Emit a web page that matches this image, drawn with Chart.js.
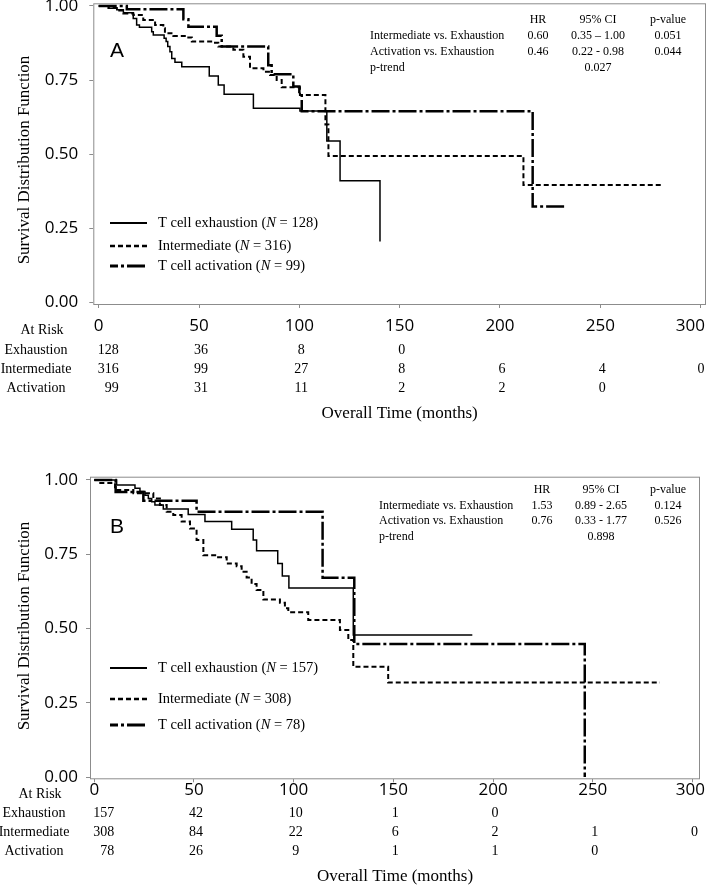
<!DOCTYPE html>
<html>
<head>
<meta charset="utf-8">
<script src="https://cdn.jsdelivr.net/npm/chart.js@4.4.1/dist/chart.umd.min.js"></script>
<style>
  body { margin: 0; background: #fff; }
  #wrapA { position: absolute; left: 0; top: 0; }
  #wrapB { position: absolute; left: 0; top: 440px; }
</style>
</head>
<body>
<div id="wrapA"><canvas id="chartA" width="707" height="440"></canvas></div>
<div id="wrapB"><canvas id="chartB" width="707" height="448"></canvas></div>
<script>
// shared
const months = [0, 50, 100, 150, 200, 250, 300];
const survTicks = [0, 0.25, 0.5, 0.75, 1];
const groups = ["Exhaustion", "Intermediate", "Activation"];
const legendNames = ["T cell exhaustion", "Intermediate", "T cell activation"];
const statRows = ["Intermediate vs. Exhaustion", "Activation vs. Exhaustion", "p-trend"];
const statHead = ["HR", "95% CI", "p-value"];

// panel A
const nA = [128, 316, 99];
const exhTimeA = [0, 4.8, 9, 12.3, 17.2, 18.9, 20.3, 26.4, 27.2, 32.6, 33.6, 34.4, 35.5, 36.4, 38, 41.4, 55.1, 59.6, 62.5, 77.1, 100.3, 113.7, 120.3, 140.2];
const exhSurvA = [1, 0.992, 0.987, 0.977, 0.958, 0.936, 0.928, 0.913, 0.902, 0.891, 0.88, 0.863, 0.846, 0.823, 0.81, 0.795, 0.764, 0.733, 0.702, 0.655, 0.646, 0.544, 0.41, 0.205];
const intTimeA = [0, 5, 9, 12.3, 17.3, 22.2, 28.1, 32.2, 33, 37.2, 43.9, 46.4, 57.1, 59.6, 67.1, 72.1, 75.4, 82.1, 85.4, 88.7, 91.2, 100.3, 113, 114.5, 211.7, 281.2];
const intSurvA = [1, 0.993, 0.985, 0.975, 0.97, 0.953, 0.936, 0.925, 0.908, 0.899, 0.894, 0.88, 0.876, 0.863, 0.852, 0.829, 0.79, 0.778, 0.767, 0.75, 0.726, 0.7, 0.6, 0.494, 0.396, 0.396];
const actTimeA = [0, 14, 42.2, 44.7, 58.8, 61.3, 84.5, 86.2, 97, 100, 101.2, 216.3, 233.3];
const actSurvA = [1, 0.989, 0.955, 0.93, 0.9, 0.863, 0.8, 0.77, 0.728, 0.705, 0.645, 0.323, 0.323];
const riskA = [[128, 36, 8, 0], [316, 99, 27, 8, 6, 4, 0], [99, 31, 11, 2, 2, 0]];
const hrA = ["0.60", "0.46"];
const ciA = ["0.35 \u2013 1.00", "0.22 - 0.98"];
const pA = ["0.051", "0.044"];
const trendA = "0.027";

// panel B
const nB = [157, 308, 78];
const exhTimeB = [0, 11.2, 20.4, 22.9, 25.4, 27.1, 28.8, 30.4, 34.6, 47.1, 55.5, 68.9, 79.7, 81.4, 92, 94.3, 97.6, 129.9, 189.6];
const exhSurvB = [1, 0.983, 0.972, 0.961, 0.949, 0.938, 0.927, 0.916, 0.902, 0.884, 0.86, 0.834, 0.798, 0.762, 0.719, 0.677, 0.636, 0.478, 0.478];
const intTimeB = [0, 3, 10.4, 19.6, 29.6, 32.9, 36.3, 39.6, 43.8, 48, 51.3, 54.7, 61.4, 66.4, 71.4, 73.9, 76.4, 78.9, 81.4, 84.8, 93.1, 95.6, 97.3, 107.3, 123.2, 127.4, 129.9, 147.4, 283.7];
const intSurvB = [1, 0.99, 0.966, 0.955, 0.938, 0.916, 0.893, 0.882, 0.86, 0.837, 0.798, 0.747, 0.74, 0.719, 0.71, 0.691, 0.672, 0.65, 0.63, 0.598, 0.587, 0.568, 0.555, 0.529, 0.495, 0.461, 0.371, 0.318, 0.318];
const actTimeB = [0, 10.7, 24.6, 51.3, 114.5, 130.4, 246];
const actSurvB = [1, 0.96, 0.93, 0.893, 0.671, 0.448, 0];
const riskB = [[157, 42, 10, 1, 0], [308, 84, 22, 6, 2, 1, 0], [78, 26, 9, 1, 1, 0]];
const hrB = ["1.53", "0.76"];
const ciB = ["0.89 - 2.65", "0.33 - 1.77"];
const pB = ["0.124", "0.526"];
const trendB = "0.898";

const dashes = [[], [5, 3], [18, 3, 3, 3]];
const widths = [1.5, 2, 2.5];
const serif = '"Liberation Serif", "Times New Roman", serif';
const sans = '"Open Sans", sans-serif';

function toPoints(t, s) {
  return t.map((v, i) => ({ x: v, y: s[i] }));
}

// keep the plot box where the reference has it
function noPad(s) {
  s.paddingLeft = 0;
  s.paddingRight = 0;
  s.paddingTop = 0;
  s.paddingBottom = 0;
}

function kmChart(id, L, curves, n, risk, hr, ci, p, trend) {
  const decor = {
    id: "decor" + L.letter,
    beforeDatasetsDraw(chart) {
      const { ctx, chartArea: a } = chart;
      ctx.save();
      ctx.strokeStyle = "#8c8c8c";
      ctx.lineWidth = 1;
      ctx.strokeRect(a.left + 0.5, a.top + 0.5, a.right - a.left - 1, a.bottom - a.top - 1);
      ctx.restore();
    },
    afterDraw(chart) {
      const { ctx, chartArea: a, scales: { x } } = chart;
      ctx.save();
      ctx.fillStyle = "#000";
      ctx.strokeStyle = "#000";

      // panel letter
      ctx.font = '21px "Liberation Sans", Arial, sans-serif';
      ctx.textAlign = "left";
      ctx.textBaseline = "alphabetic";
      ctx.fillText(L.letter, L.letterX, L.letterY);

      ctx.textBaseline = "middle";

      // x tick labels (last one kept inside the page)
      ctx.font = "17px " + sans;
      ctx.textAlign = "center";
      months.forEach(m => {
        const w = ctx.measureText(String(m)).width;
        const px = Math.min(x.getPixelForValue(m), chart.width - w / 2 - 2);
        ctx.fillText(String(m), px, L.tickY);
      });

      // y title
      ctx.save();
      ctx.translate(L.yTitleX, L.yTitleY);
      ctx.rotate(-Math.PI / 2);
      ctx.textAlign = "center";
      ctx.font = "17px " + serif;
      ctx.fillText("Survival Distribution Function", 0, 0);
      ctx.restore();

      // legend
      legendNames.forEach((name, i) => {
        const y = L.legendY[i];
        ctx.beginPath();
        ctx.setLineDash(dashes[i]);
        ctx.lineDashOffset = i === 2 ? 10 : 0;
        ctx.lineWidth = widths[i] + 0.5;
        ctx.moveTo(110, y);
        ctx.lineTo(147, y);
        ctx.stroke();
        ctx.setLineDash([]);
        ctx.textAlign = "left";
        let tx = 158;
        ctx.font = "14.5px " + serif;
        const head = name + " (";
        ctx.fillText(head, tx, y);
        tx += ctx.measureText(head).width;
        ctx.font = "italic 14.5px " + serif;
        ctx.fillText("N", tx, y);
        tx += ctx.measureText("N").width;
        ctx.font = "14.5px " + serif;
        ctx.fillText(" = " + n[i] + ")", tx, y);
      });

      // hazard ratio table
      ctx.font = "12px " + serif;
      ctx.textAlign = "center";
      statHead.forEach((h, j) => ctx.fillText(h, L.statX[j + 1], L.statY[0]));
      statRows.forEach((r, i) => {
        ctx.textAlign = "left";
        ctx.fillText(r, L.statX[0], L.statY[i + 1]);
      });
      ctx.textAlign = "center";
      for (let i = 0; i < 2; i++) {
        ctx.fillText(hr[i], L.statX[1], L.statY[i + 1]);
        ctx.fillText(ci[i], L.statX[2], L.statY[i + 1]);
        ctx.fillText(p[i], L.statX[3], L.statY[i + 1]);
      }
      ctx.fillText(trend, L.statX[2], L.statY[3]);

      // number at risk
      ctx.font = "14px " + serif;
      ctx.fillText("At Risk", L.riskLabelX + 6, L.riskY[0]);
      groups.forEach((g, i) => {
        const y = L.riskY[i + 1];
        ctx.textAlign = "center";
        ctx.fillText(g, L.riskLabelX, y);
        risk[i].forEach((v, k) => {
          const px = x.getPixelForValue(months[k]);
          if (k === 0) {
            ctx.textAlign = "right";
            ctx.fillText(String(v), px + 20, y);
          } else {
            ctx.textAlign = "center";
            ctx.fillText(String(v), Math.min(px + 2, chart.width - 6), y);
          }
        });
      });

      // x title
      ctx.font = "17px " + serif;
      ctx.textAlign = "center";
      ctx.fillText("Overall Time (months)", (a.left + a.right) / 2, L.xTitleY);
      ctx.restore();
    }
  };

  return new Chart(document.getElementById(id), {
    type: "line",
    data: {
      datasets: curves.map((c, i) => ({
        data: toPoints(c[0], c[1]),
        borderColor: "#000",
        borderWidth: widths[i],
        borderDash: dashes[i],
        stepped: true,
        pointRadius: 0,
        fill: false,
        tension: 0
      }))
    },
    options: {
      responsive: false,
      animation: false,
      layout: { padding: { top: L.area.top, right: 707 - L.area.right, left: 0, bottom: 0 } },
      plugins: { legend: { display: false }, tooltip: { enabled: false } },
      scales: {
        x: {
          type: "linear",
          min: L.xMin,
          max: L.xMax,
          afterBuildTicks: s => { s.ticks = months.map(v => ({ value: v })); },
          afterFit: s => { s.height = L.height - L.area.bottom; noPad(s); },
          grid: { drawOnChartArea: false, tickLength: 3, color: "#8c8c8c" },
          border: { display: false },
          ticks: { display: false }
        },
        y: {
          min: L.yMin,
          max: L.yMax,
          afterBuildTicks: s => { s.ticks = survTicks.map(v => ({ value: v })); },
          afterFit: s => { s.width = L.area.left; noPad(s); },
          grid: { drawOnChartArea: false, tickLength: 4, color: "#8c8c8c" },
          border: { display: false },
          ticks: { padding: L.yPad, color: "#000", font: { family: sans, size: 17 }, callback: v => Number(v).toFixed(2) }
        }
      }
    },
    plugins: [decor]
  });
}

kmChart("chartA", {
  letter: "A", height: 440,
  area: { top: 3.3, left: 93.3, right: 706, bottom: 305 },
  xMin: -2.7, xMax: 302.7, yMin: -0.0091, yMax: 1.0091, yPad: 11, tickY: 326,
  letterX: 110, letterY: 57, yTitleX: 25, yTitleY: 160,
  legendY: [223, 246, 266],
  statX: [370, 538, 598, 668], statY: [20, 36, 52, 68],
  riskLabelX: 36, riskY: [330, 350, 369, 388], xTitleY: 414
}, [[exhTimeA, exhSurvA], [intTimeA, intSurvA], [actTimeA, actSurvA]], nA, riskA, hrA, ciA, pA, trendA);

kmChart("chartB", {
  letter: "B", height: 448,
  area: { top: 36.7, left: 90, right: 700, bottom: 339.3 },
  xMin: -2.16, xMax: 303.8, yMin: -0.0077, yMax: 1.0111, yPad: 8, tickY: 350,
  letterX: 110, letterY: 93, yTitleX: 25, yTitleY: 186,
  legendY: [228, 259, 285],
  statX: [379, 542, 601, 668], statY: [50, 66, 81, 97],
  riskLabelX: 34, riskY: [354, 373, 392, 411], xTitleY: 437
}, [[exhTimeB, exhSurvB], [intTimeB, intSurvB], [actTimeB, actSurvB]], nB, riskB, hrB, ciB, pB, trendB);
</script>
</body>
</html>
